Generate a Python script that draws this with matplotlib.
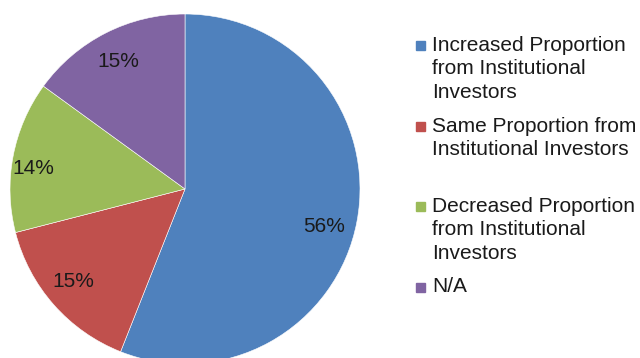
import matplotlib.pyplot as plt
from matplotlib.patches import Rectangle

plt.rcParams['font.family'] = ['Liberation Sans', 'DejaVu Sans']

labels = ['Increased Proportion\nfrom Institutional\nInvestors',
          'Same Proportion from\nInstitutional Investors',
          'Decreased Proportion\nfrom Institutional\nInvestors',
          'N/A']
shares = [56, 15, 14, 15]
colors = ['#4F81BD', '#C0504D', '#9BBB59', '#8064A2']

W, H = 640, 358
fig = plt.figure(figsize=(W / 100, H / 100), dpi=100)

# pie centred at (185, 189) px, radius 175 px (runs off the bottom edge)
cx, cy, r = 185, 189, 175
ax = fig.add_axes([(cx - r) / W, (H - cy - r) / H, 2 * r / W, 2 * r / H])
wedges, texts, autotexts = ax.pie(
    shares, colors=colors, startangle=90, counterclock=False,
    autopct='%d%%', pctdistance=0.83, radius=1,
    wedgeprops=dict(edgecolor='white', linewidth=0.4),
    textprops=dict(fontsize=15, color='#1a1a1a'))

# small nudges of the percentage labels (pixels, +y is down)
nudges = [(-4, 10), (-3, -4), (-9, 7), (-1, 2)]
for t, (dx, dy) in zip(autotexts, nudges):
    x, y = t.get_position()
    t.set_position((x + dx / r, y - dy / r))

ax.set_xlim(-1, 1)
ax.set_ylim(-1, 1)
ax.set_aspect('equal')
ax.axis('off')

# legend drawn by hand: square + wrapped label, one slot every 80 px
for i, (lab, col) in enumerate(zip(labels, colors)):
    base = 51 + i * 80.5
    fig.patches.append(Rectangle(((420 - 4.5) / W, (H - base + 1) / H),
                                 9 / W, 9 / H, color=col,
                                 transform=fig.transFigure))
    fig.text(432 / W, (H - base + 14 + 1) / H, lab, fontsize=15,
             color='#1a1a1a', va='top', ha='left', linespacing=1.29)

fig.savefig('out.png', dpi=100, facecolor='white')
